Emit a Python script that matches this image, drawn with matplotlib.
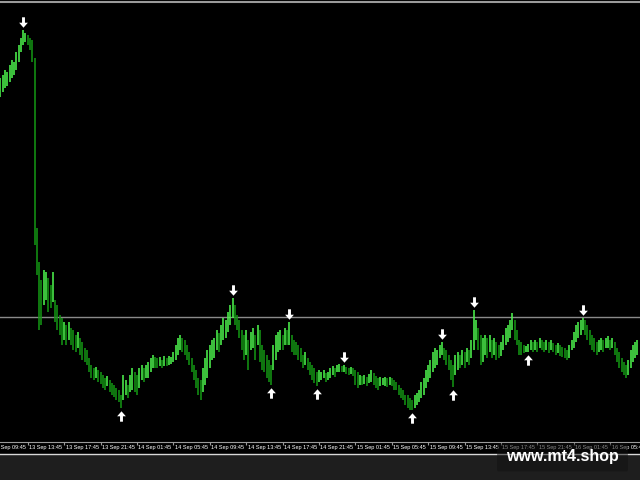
import matplotlib
matplotlib.use('Agg')
import numpy as np
from matplotlib import pyplot as plt
from matplotlib.patches import FancyBboxPatch, Rectangle
from matplotlib.lines import Line2D
from matplotlib.path import Path
import matplotlib.transforms as mtransforms

# 15 minute bars, price in points
highs = [364, 367, 372, 370, 377, 382, 380, 390, 397, 404,
         412, 409, 407, 404, 402, 384, 214, 180, 162, 172,
         170, 164, 157, 170, 142, 137, 127, 124, 120, 117,
         120, 114, 112, 107, 110, 104, 100, 94, 92, 84,
         77, 74, 75, 72, 70, 67, 64, 66, 62, 59,
         57, 54, 52, 47, 67, 62, 57, 67, 74, 70,
         67, 74, 77, 74, 77, 80, 84, 87, 85, 84,
         85, 82, 86, 84, 86, 85, 90, 97, 104, 107,
         104, 102, 97, 90, 84, 77, 72, 64, 62, 74,
         84, 92, 97, 102, 104, 112, 109, 117, 124, 122,
         130, 137, 144, 137, 127, 122, 112, 107, 112, 102,
         110, 114, 107, 117, 112, 97, 92, 87, 82, 77,
         97, 107, 110, 112, 107, 114, 112, 120, 107, 102,
         100, 97, 94, 87, 90, 84, 80, 77, 74, 70,
         72, 70, 72, 69, 70, 74, 76, 74, 77, 78,
         76, 77, 75, 74, 75, 74, 72, 70, 67, 66,
         67, 65, 68, 72, 69, 66, 64, 65, 64, 65,
         64, 65, 64, 62, 60, 57, 54, 52, 47, 47,
         44, 42, 47, 49, 52, 60, 64, 72, 77, 82,
         90, 94, 92, 97, 100, 94, 92, 87, 82, 77,
         87, 90, 87, 92, 90, 94, 92, 102, 132, 122,
         114, 107, 104, 107, 104, 107, 102, 104, 100, 97,
         100, 107, 114, 117, 122, 129, 122, 112, 102, 100,
         97, 96, 98, 102, 100, 102, 100, 104, 102, 100,
         102, 100, 102, 99, 97, 99, 97, 95, 94, 92,
         97, 102, 110, 117, 120, 122, 124, 122, 117, 112,
         107, 104, 100, 102, 104, 102, 104, 106, 102, 104,
         100, 94, 90, 84, 80, 77, 82, 92, 97, 100, 102]
lows = [345, 350, 354, 356, 360, 364, 367, 372, 380, 390,
        397, 400, 397, 392, 380, 197, 167, 112, 117, 137,
        142, 130, 134, 140, 120, 112, 107, 97, 102, 97,
        102, 97, 92, 90, 94, 87, 82, 80, 77, 70,
        64, 62, 64, 60, 58, 54, 52, 56, 50, 47,
        45, 42, 40, 34, 42, 47, 44, 50, 52, 50,
        47, 54, 62, 60, 64, 64, 70, 74, 74, 74,
        76, 74, 76, 76, 77, 78, 80, 82, 87, 92,
        90, 87, 82, 77, 70, 62, 54, 47, 42, 50,
        57, 64, 74, 82, 84, 92, 90, 97, 102, 104,
        110, 117, 124, 117, 112, 104, 92, 82, 87, 72,
        92, 94, 82, 97, 80, 72, 70, 64, 60, 57,
        72, 82, 90, 92, 92, 97, 97, 97, 90, 87,
        87, 82, 80, 74, 77, 72, 67, 62, 59, 56,
        60, 62, 64, 60, 62, 64, 67, 65, 70, 70,
        70, 70, 68, 67, 68, 66, 57, 54, 57, 57,
        58, 56, 59, 60, 57, 54, 52, 56, 57, 56,
        55, 57, 56, 52, 52, 47, 44, 42, 37, 34,
        32, 32, 34, 37, 40, 44, 47, 54, 60, 64,
        70, 74, 77, 84, 87, 82, 77, 72, 62, 55,
        67, 72, 74, 77, 74, 80, 77, 84, 92, 102,
        92, 77, 80, 87, 84, 90, 84, 87, 82, 84,
        86, 92, 97, 100, 104, 112, 102, 97, 87, 87,
        89, 90, 90, 92, 90, 92, 90, 94, 92, 90,
        92, 89, 92, 90, 87, 89, 86, 85, 84, 82,
        84, 92, 94, 100, 104, 107, 112, 107, 102, 97,
        92, 90, 87, 90, 92, 90, 94, 94, 92, 94,
        87, 80, 74, 70, 67, 64, 67, 74, 80, 84, 87]

time_labels = ['13 Sep 09:45', '13 Sep 13:45', '13 Sep 17:45', '13 Sep 21:45',
               '14 Sep 01:45', '14 Sep 05:45', '14 Sep 09:45', '14 Sep 13:45',
               '14 Sep 17:45', '14 Sep 21:45', '15 Sep 01:45', '15 Sep 05:45',
               '15 Sep 09:45', '15 Sep 13:45', '15 Sep 17:45', '15 Sep 21:45',
               '16 Sep 01:45', '16 Sep 05:45']
first_label_bar = -4
bars_per_label = 16

peak_bars = [10, 102, 127, 151, 194, 208, 256]
trough_bars = [53, 119, 139, 181, 199, 232]

level_line = 125

highs = np.array(highs)
lows = np.array(lows)
x = np.arange(len(highs))

fig = plt.figure(figsize=(6.4, 4.8), dpi=100, facecolor='#1e1e1e')
# black chart window and borders
fig.patches.append(Rectangle((0, 26 / 480.), 1, 1, transform=fig.transFigure,
                             facecolor='black', edgecolor='none', zorder=-5))
fig.lines.append(Line2D([0, 1], [1 - 1.5 / 480, 1 - 1.5 / 480], transform=fig.transFigure,
                        color='#9a9a9a', linewidth=1.5))
fig.lines.append(Line2D([0, 1], [26 / 480., 26 / 480.], transform=fig.transFigure,
                        color='#d8d8d8', linewidth=1.0))

ax = fig.add_axes([0, 38 / 480., 1, 439 / 480.])
ax.set_facecolor('black')

mid = (highs + lows) / 2.0
up = np.r_[True, mid[1:] >= mid[:-1]]
colors = np.where(up, '#4cf04c', '#139313')
ax.vlines(x, lows, highs, colors=colors, linewidth=1.15)

ax.axhline(level_line, color='#8a8a8a', linewidth=1.0, zorder=1)

# fractal arrows
down_arrow = Path([(-0.14, 0.5), (0.14, 0.5), (0.14, -0.02), (0.42, -0.02), (0, -0.5),
                   (-0.42, -0.02), (-0.14, -0.02), (-0.14, 0.5)], closed=True)
up_arrow = Path([(-0.14, -0.5), (0.14, -0.5), (0.14, 0.02), (0.42, 0.02), (0, 0.5),
                 (-0.42, 0.02), (-0.14, 0.02), (-0.14, -0.5)], closed=True)
pk = np.array(peak_bars)
tr = np.array(trough_bars)
ax.plot(pk, highs[pk] + 8, linestyle='none', marker=down_arrow, markersize=7.5,
        color='white', markeredgewidth=0, zorder=4)
ax.plot(tr, lows[tr] - 8, linestyle='none', marker=up_arrow, markersize=7.5,
        color='white', markeredgewidth=0, zorder=4)

for s in ['top', 'left', 'right']:
    ax.spines[s].set_visible(False)
ax.spines['bottom'].set_color('#9a9a9a')
ax.spines['bottom'].set_linewidth(0.8)
ax.set_yticks([])
ticks = [first_label_bar + bars_per_label * k for k in range(len(time_labels))]
ax.set_xticks(ticks)
ax.set_xticklabels([])
ax.tick_params(axis='x', colors='#9a9a9a', length=2.5, width=0.8, direction='out')
ax.set_xlim(-0.2, 281.1)
ax.set_ylim(0, 439)

# time scale labels, left aligned at their tick
label_trans = mtransforms.blended_transform_factory(ax.transData, ax.transAxes) + \
    mtransforms.ScaledTranslation(1.5 / 100., -5.5 / 100., fig.dpi_scale_trans)
for t, lab in zip(ticks, time_labels):
    ax.text(t, 0, lab, transform=label_trans, ha='left', va='center', color='white',
            family='Liberation Sans', fontsize=4.0, clip_on=False)

# watermark
fig.patches.append(FancyBboxPatch((499 / 640., 10 / 480.), 127 / 640., 25 / 480.,
                                  boxstyle='round,pad=0.003', transform=fig.transFigure,
                                  facecolor='#111111', edgecolor='none', alpha=0.5, zorder=5))
fig.text(562 / 640., 23.5 / 480., 'www.mt4.shop', family='Liberation Sans', fontsize=11.5,
         fontweight='bold', color='white', ha='center', va='center', zorder=6)

fig.savefig('out.png', dpi=100, facecolor=fig.get_facecolor())
